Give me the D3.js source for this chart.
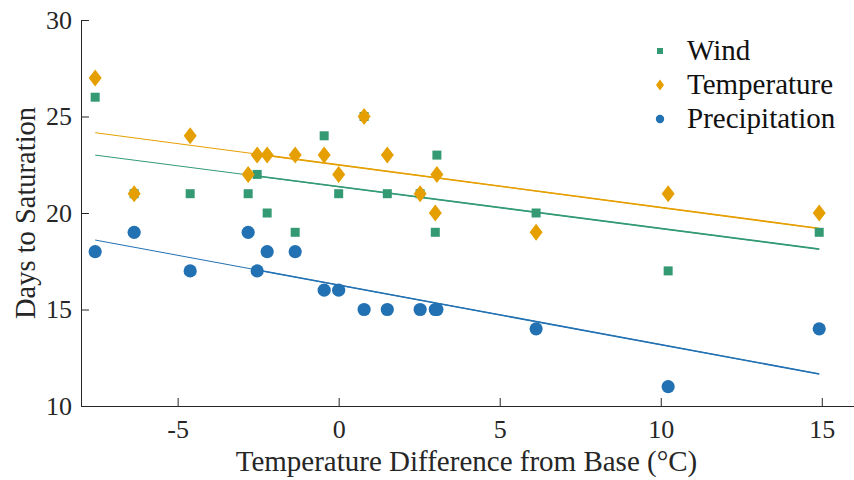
<!DOCTYPE html>
<html><head><meta charset="utf-8">
<script src="https://cdn.jsdelivr.net/npm/d3@7"></script>
<style>
html,body{margin:0;padding:0;background:#fff;}
svg{display:block;font-family:"Liberation Serif","Times New Roman",serif;}
</style></head>
<body><svg id="chart" width="854" height="480"></svg>
<script>
const tempDiff = [-7.56, -6.35, -4.61, -2.81, -2.53, -2.22, -1.35, -0.45, 0, 0.79, 1.51, 2.53, 3.0, 3.05, 6.13, 10.23, 14.92];
const wind = [26, 21, 21, 21, 22, 20, 19, 24, 21, 25, 21, 21, 19, 23, 20, 17, 19];
const temperature = [27, 21, 24, 22, 23, 23, 23, 23, 22, 25, 23, 21, 20, 22, 19, 21, 20];
const precipitation = [18, 19, 17, 19, 17, 18, 18, 16, 16, 15, 15, 15, 15, 15, 14, 11, 14];
// fit line endpoints (x start, x mid, x end)
const fitX = [-7.56, -2.53, 14.92];
const windFit = [23.0, 21.92, 18.13];
const temperatureFit = [24.16, 23.05, 19.2];
const precipitationFit = [18.6, 17.05, 11.66];
const xTicks = [-5, 0, 5, 10, 15];
const yTicks = [10, 15, 20, 25, 30];
const seriesNames = ["Wind", "Temperature", "Precipitation"];
const colors = ["#339a74", "#e69f00", "#2271b2"];

const svg = d3.select("#chart");
const x = d3.scaleLinear().domain([-8, 16]).range([81, 854]);
const y = d3.scaleLinear().domain([10, 30]).range([406, 20]);
const axisColor = "#262626";

// axes
const gx = svg.append("g").attr("transform", `translate(0,${y(10)})`)
  .call(d3.axisBottom(x).tickValues(xTicks).tickSizeInner(-8).tickSizeOuter(0).tickPadding(14)
    .tickFormat(d => d < 0 ? "-" + Math.abs(d) : d));
const gy = svg.append("g").attr("transform", `translate(${x(-8)},0)`)
  .call(d3.axisLeft(y).tickValues(yTicks).tickSizeInner(-8).tickSizeOuter(0).tickPadding(9));
[gx, gy].forEach(g => {
  g.select(".domain").attr("stroke", axisColor).attr("stroke-width", 1);
  g.selectAll(".tick line").attr("stroke", axisColor).attr("stroke-width", 1);
  g.selectAll(".tick text").attr("fill", axisColor).attr("font-size", 26)
    .attr("font-family", "Liberation Serif, Times New Roman, serif");
});

// fit lines
const fits = [windFit, temperatureFit, precipitationFit];
const line = d3.line().x(d => x(d[0])).y(d => y(d[1]));
fits.forEach((f, i) => {
  const pts = fitX.map((v, j) => [v, f[j]]);
  svg.append("path").attr("d", line([pts[0], pts[2]])).attr("fill", "none")
    .attr("stroke", colors[i]).attr("stroke-width", 1);
  svg.append("path").attr("d", line([pts[1], pts[2]])).attr("fill", "none")
    .attr("stroke", colors[i]).attr("stroke-width", 1.6);
});

// markers
const square = s => `M${-s/2},${-s/2}h${s}v${s}h${-s}Z`;
const diamond = (w, h) => `M0,${-h/2}L${w/2},0L0,${h/2}L${-w/2},0Z`;
svg.append("g").selectAll("path").data(tempDiff).join("path")
  .attr("transform", (d, i) => `translate(${x(d)},${y(wind[i])})`)
  .attr("d", square(9)).attr("fill", colors[0]);
svg.append("g").selectAll("path").data(tempDiff).join("path")
  .attr("transform", (d, i) => `translate(${x(d)},${y(temperature[i])})`)
  .attr("d", diamond(13, 17)).attr("fill", colors[1]);
svg.append("g").selectAll("circle").data(tempDiff).join("circle")
  .attr("cx", d => x(d)).attr("cy", (d, i) => y(precipitation[i]))
  .attr("r", 6.6).attr("fill", colors[2]);

// axis titles
svg.append("text").attr("x", (x(-8) + x(16)) / 2 - 1).attr("y", 471)
  .attr("text-anchor", "middle").attr("font-size", 29).attr("fill", axisColor)
  .text("Temperature Difference from Base (°C)");
svg.append("text").attr("transform", `translate(35,${(y(10) + y(30)) / 2}) rotate(-90)`)
  .attr("text-anchor", "middle").attr("font-size", 28.5).attr("fill", axisColor)
  .text("Days to Saturation");

// legend
const lg = svg.append("g");
seriesNames.forEach((name, i) => {
  const cy = 51 + i * 34;
  if (i === 0) lg.append("path").attr("transform", `translate(660,${cy})`).attr("d", square(6)).attr("fill", colors[0]);
  if (i === 1) lg.append("path").attr("transform", `translate(660,${cy})`).attr("d", diamond(8, 11)).attr("fill", colors[1]);
  if (i === 2) lg.append("circle").attr("cx", 660).attr("cy", cy).attr("r", 4.2).attr("fill", colors[2]);
  lg.append("text").attr("x", 687).attr("y", cy + 9).attr("font-size", 29).attr("fill", "#111")
    .text(name);
});
</script></body></html>
